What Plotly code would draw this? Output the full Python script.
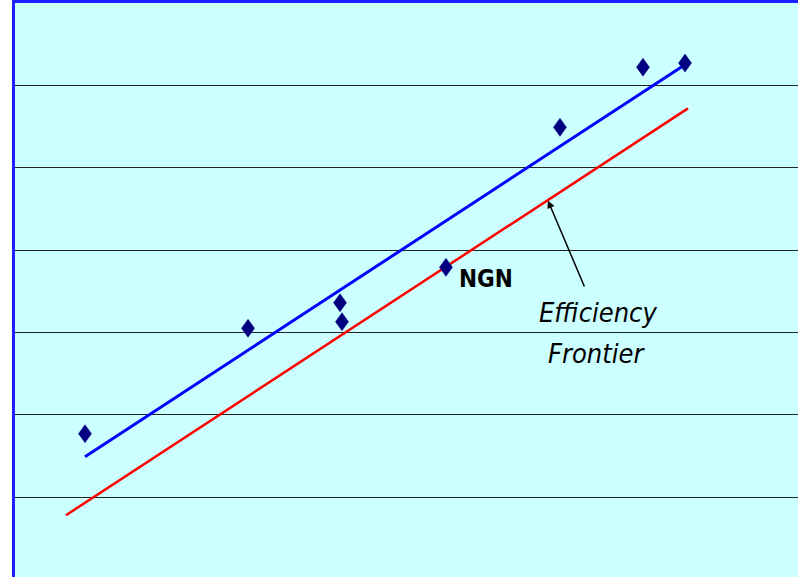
import plotly.graph_objects as go

# Data
pts_x = [8.94, 29.76, 41.51, 41.76, 55.04, 69.60, 80.20, 85.57]
pts_y = [1.77, 3.05, 3.36, 3.13, 3.79, 5.49, 6.22, 6.27]
trend_x = [8.94, 85.70]
trend_y = [1.49, 6.26]
frontier_x = [6.51, 85.95]
frontier_y = [0.78, 5.72]
grid_vals = [1, 2, 3, 4, 5, 6]

FONT = "Liberation Sans Narrow, DejaVu Sans Condensed, Arial Narrow, sans-serif"

fig = go.Figure()
fig.add_trace(go.Scatter(x=trend_x, y=trend_y, mode="lines",
                         line=dict(color="#0000FF", width=3), showlegend=False))
fig.add_trace(go.Scatter(x=frontier_x, y=frontier_y, mode="lines",
                         line=dict(color="#FF0000", width=2.5), showlegend=False))

# diamond markers anchored to the data, sized in pixels
for x, y in zip(pts_x, pts_y):
    fig.add_shape(type="path", xref="x", yref="y", xsizemode="pixel", ysizemode="pixel",
                  xanchor=x, yanchor=y,
                  path="M0,9 L6.5,0 L0,-9 L-6.5,0 Z",
                  fillcolor="#000080", line=dict(color="#000080", width=0.5), layer="above")

fig.add_annotation(x=60.15, y=3.65, text="<b>NGN</b>", showarrow=False,
                   font=dict(family=FONT, size=24, color="black"))
fig.add_annotation(x=74.46, y=3.24, text="<i>Efficiency</i>", showarrow=False,
                   font=dict(family=FONT, size=27, color="black"))
fig.add_annotation(x=74.3, y=2.74, text="<i>Frontier</i>", showarrow=False,
                   font=dict(family=FONT, size=27, color="black"))
fig.add_annotation(x=68.07, y=4.60, ax=72.80, ay=3.54, axref="x", ayref="y",
                   text="", showarrow=True, arrowhead=2, arrowsize=1, arrowwidth=1.5,
                   arrowcolor="black")

fig.update_layout(
    width=798, height=577,
    margin=dict(l=15, r=0, t=3, b=0),
    paper_bgcolor="white", plot_bgcolor="#CCFFFF",
    xaxis=dict(range=[0, 100], showgrid=False, zeroline=False, showticklabels=False,
               ticks="", side="top", showline=True, linecolor="#2020FF", linewidth=3),
    yaxis=dict(range=[0.03, 7.0], tickvals=grid_vals, showgrid=True, gridcolor="#222222",
               gridwidth=1, zeroline=False, showticklabels=False, ticks="",
               showline=True, linecolor="#2020FF", linewidth=3),
    showlegend=False,
)

fig.write_html("out.html", config={"displayModeBar": False},
               post_script="document.body.style.margin='0';document.body.style.overflow='hidden';")
